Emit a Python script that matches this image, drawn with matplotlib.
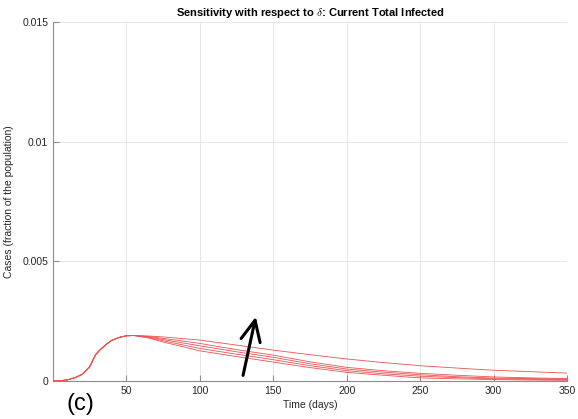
import matplotlib
matplotlib.use('Agg')
import matplotlib.pyplot as plt
import numpy as np

plt.rcParams['font.family'] = ['Liberation Sans', 'DejaVu Sans']
plt.rcParams['mathtext.fontset'] = 'cm'

# shared growth phase (days, fraction)
rise_days = [0, 5, 10, 15, 20, 25, 29, 32, 36, 40, 45, 50, 55]
rise_vals = [0, 0.00001, 0.00005, 0.00014, 0.00028, 0.0006, 0.0011, 0.0013,
             0.00152, 0.0017, 0.00182, 0.00189, 0.0019]

# decay phase, one list per delta value
decay_days = [65, 75, 100, 125, 150, 175, 200, 225, 250, 275, 300, 325, 350]
decay_vals = [
    [0.00188, 0.00184, 0.00171, 0.0015, 0.00129, 0.0011, 0.00092, 0.00077, 0.00064, 0.00054, 0.00045, 0.00039, 0.00033],
    [0.00186, 0.00178, 0.00157, 0.00131, 0.00108, 0.0008, 0.00057, 0.00043, 0.00032, 0.00024, 0.00017, 0.00013, 0.0001],
    [0.00184, 0.00173, 0.00147, 0.00122, 0.00099, 0.00072, 0.0005, 0.00037, 0.00026, 0.00018, 0.00012, 0.0001, 0.00007],
    [0.00182, 0.00168, 0.00136, 0.00112, 0.00089, 0.00064, 0.00043, 0.0003, 0.0002, 0.00014, 0.00009, 0.00007, 0.00005],
    [0.0018, 0.00163, 0.00126, 0.00102, 0.00079, 0.00056, 0.00036, 0.00024, 0.00013, 0.00009, 0.00006, 0.00004, 0.00003],
]

fig = plt.figure(figsize=(5.78, 4.19), dpi=100)
ax = fig.add_axes([0.0917, 0.0907, 0.8893, 0.8568])

for vals in decay_vals:
    ax.plot(rise_days + decay_days, rise_vals + vals, color='#ef5050', lw=0.6)

ax.annotate('', xy=(138.5, 0.0028), xytext=(129, 0.00012),
            arrowprops=dict(arrowstyle='->,head_length=1.5,head_width=0.7',
                            color='black', lw=2.2))

ax.set_xlim(0, 350)
ax.set_ylim(0, 0.015)
ax.set_xticks([50, 100, 150, 200, 250, 300, 350])
ax.set_yticks([0, 0.005, 0.01, 0.015])
ax.set_yticklabels(['0', '0.005', '0.01', '0.015'])
ax.grid(True, color='#e6e6e6', lw=0.7)
ax.set_axisbelow(True)
for s in ['top', 'right']:
    ax.spines[s].set_visible(False)
for s in ['left', 'bottom']:
    ax.spines[s].set_color('#8c8c8c')
ax.tick_params(direction='in', length=4, colors='#8c8c8c', labelcolor='#262626', labelsize=7.5)

ax.set_title(r'Sensitivity with respect to $\delta$: Current Total Infected',
             fontsize=8, fontweight='bold', pad=4)
ax.set_xlabel('Time (days)', fontsize=7.5, color='#262626', labelpad=3)
ax.set_ylabel('Cases (fraction of the population)', fontsize=7.5, color='#262626', labelpad=6)

fig.text(0.14, 0.035, '(c)', fontsize=17, ha='center', va='center')

fig.savefig('out.png', dpi=100)
